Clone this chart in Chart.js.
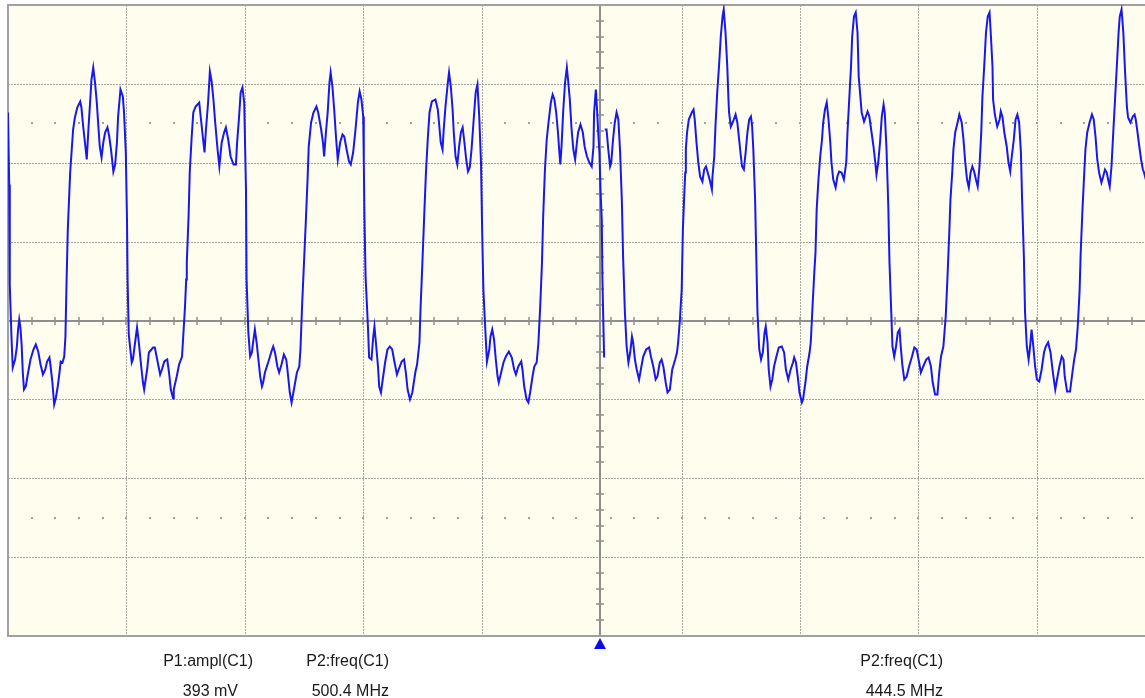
<!DOCTYPE html>
<html>
<head>
<meta charset="utf-8">
<title>C1 capture</title>
<script src="https://cdn.jsdelivr.net/npm/chart.js@4.4.1/dist/chart.umd.min.js"></script>
<style>
    html, body { margin: 0; padding: 0; background: #fff; overflow: hidden; }
    #wrap { position: relative; width: 1145px; height: 698px; overflow: hidden; }
    #scope { position: absolute; left: 0; top: 0; }
    .lbl {
        position: absolute;
        font-family: "Liberation Sans", Arial, sans-serif;
        font-size: 16px;
        line-height: 16px;
        color: #1a1a1a;
        white-space: nowrap;
        transform: translateX(-100%);
    }
</style>
</head>
<body>
<div id="wrap">
    <canvas id="scope" width="1192" height="698"></canvas>
    <div class="lbl" style="left:253px;top:653px">P1:ampl(C1)</div>
    <div class="lbl" style="left:238px;top:683px">393 mV</div>
    <div class="lbl" style="left:389px;top:653px">P2:freq(C1)</div>
    <div class="lbl" style="left:389px;top:683px">500.4 MHz</div>
    <div class="lbl" style="left:943px;top:653px">P2:freq(C1)</div>
    <div class="lbl" style="left:943px;top:683px">444.5 MHz</div>
</div>
<script>
// First capture (left half of the screen): time in ns, level in mV
var leftTimeNs = [
    0.00, 0.02, 0.03, 0.06, 0.08, 0.12, 0.15, 0.17, 0.19, 0.21,
    0.23, 0.25, 0.27, 0.30, 0.34, 0.38, 0.43, 0.47, 0.51, 0.55,
    0.59, 0.63, 0.66, 0.70, 0.72, 0.75, 0.78, 0.81, 0.84, 0.87,
    0.89, 0.92, 0.95, 0.97, 0.99, 1.01, 1.05, 1.08, 1.10, 1.13,
    1.17, 1.22, 1.24, 1.27, 1.30, 1.33, 1.36, 1.39, 1.41, 1.44,
    1.47, 1.50, 1.53, 1.55, 1.58, 1.61, 1.64, 1.68, 1.71, 1.74,
    1.78, 1.81, 1.84, 1.86, 1.90, 1.94, 1.96, 1.99, 2.01, 2.02,
    2.04, 2.09, 2.11, 2.16, 2.18, 2.21, 2.25, 2.28, 2.30, 2.35,
    2.38, 2.45, 2.48, 2.52, 2.57, 2.60, 2.64, 2.69, 2.72, 2.75,
    2.79, 2.80, 2.85, 2.89, 2.94, 2.96, 2.99, 3.01, 3.02, 3.05,
    3.07, 3.10, 3.13, 3.17, 3.23, 3.26, 3.29, 3.32, 3.34, 3.38,
    3.41, 3.44, 3.47, 3.50, 3.54, 3.57, 3.61, 3.65, 3.68, 3.72,
    3.76, 3.81, 3.85, 3.87, 3.90, 3.93, 3.96, 3.99, 4.02, 4.03,
    4.06, 4.09, 4.12, 4.14, 4.17, 4.20, 4.23, 4.26, 4.29, 4.31,
    4.34, 4.40, 4.45, 4.48, 4.51, 4.55, 4.58, 4.62, 4.66, 4.70,
    4.72, 4.76, 4.79, 4.83, 4.88, 4.92, 4.94, 4.97, 5.00, 5.03,
    5.06, 5.08, 5.12, 5.16, 5.21, 5.24, 5.29, 5.32, 5.34, 5.37,
    5.40, 5.43, 5.45, 5.48, 5.51, 5.54, 5.57, 5.61, 5.65, 5.68,
    5.72, 5.76, 5.79, 5.83, 5.87, 5.91, 5.94, 5.97, 6.00, 6.01,
    6.02, 6.04, 6.08, 6.10, 6.14, 6.17, 6.19, 6.21, 6.25, 6.27,
    6.30, 6.33, 6.37, 6.41, 6.45, 6.49, 6.53, 6.57, 6.60, 6.65,
    6.69, 6.72, 6.75, 6.79, 6.83, 6.88, 6.91, 6.95, 6.97, 7.00,
    7.03, 7.06, 7.09, 7.12, 7.16, 7.22, 7.26, 7.28, 7.31, 7.34,
    7.36, 7.39, 7.43, 7.45, 7.48, 7.51, 7.53, 7.56, 7.59, 7.62,
    7.65, 7.68, 7.71, 7.74, 7.77, 7.80, 7.83, 7.87, 7.90, 7.93,
    7.96, 7.99, 8.01, 8.03, 8.06, 8.09, 8.13, 8.15, 8.18, 8.21,
    8.24, 8.27, 8.29, 8.33, 8.37, 8.41, 8.46, 8.51, 8.55, 8.58,
    8.62, 8.67, 8.69, 8.72, 8.76, 8.79, 8.82, 8.86, 8.89, 8.93,
    8.96, 8.99, 9.02, 9.04, 9.07, 9.10, 9.13, 9.17, 9.20, 9.23,
    9.26, 9.29, 9.31, 9.33, 9.35, 9.38, 9.41, 9.44, 9.46, 9.49,
    9.52, 9.55, 9.58, 9.61, 9.63, 9.67, 9.71, 9.74, 9.78, 9.82,
    9.86, 9.89, 9.90, 9.93, 9.95, 9.97, 9.99, 10.01, 10.03, 10.04,
    10.06, 10.07
];
var leftMv = [
    208, 136, 36, -19, -47, -39, -26, -9, 1, -7,
    -24, -52, -69, -66, -52, -39, -29, -24, -31, -44,
    -54, -49, -41, -37, -46, -62, -84, -77, -66, -52,
    -41, -42, -36, -16, 41, 91, 148, 174, 191, 203,
    213, 219, 213, 194, 178, 161, 193, 221, 241, 253,
    238, 218, 191, 174, 163, 178, 188, 193, 184, 171,
    149, 156, 178, 204, 231, 224, 208, 168, 101, 41,
    -14, -42, -39, -16, -7, -22, -46, -62, -69, -49,
    -32, -27, -27, -39, -54, -49, -41, -39, -52, -69,
    -78, -69, -56, -44, -36, -16, 14, 41, 58, 104,
    148, 181, 208, 214, 218, 201, 184, 168, 188, 218,
    249, 239, 221, 198, 171, 154, 178, 188, 193, 181,
    164, 156, 156, 178, 201, 228, 233, 218, 131, 41,
    -12, -36, -32, -22, -9, -22, -39, -56, -66, -62,
    -52, -41, -31, -26, -32, -46, -52, -44, -34, -39,
    -49, -72, -82, -69, -52, -46, -29, 18, 58, 98,
    141, 174, 198, 208, 214, 208, 191, 178, 164, 188,
    208, 238, 248, 234, 211, 184, 161, 178, 186, 184,
    171, 159, 156, 168, 191, 218, 229, 221, 204, 161,
    108, 44, -6, -37, -39, -16, -6, -19, -46, -66,
    -72, -59, -42, -29, -26, -29, -42, -54, -49, -41,
    -39, -52, -69, -79, -72, -52, -44, -22, 14, 58,
    104, 148, 181, 208, 219, 221, 211, 198, 178, 171,
    191, 214, 238, 248, 234, 211, 188, 164, 156, 174,
    188, 193, 178, 161, 149, 153, 171, 204, 228, 236,
    204, 158, 88, 31, -6, -41, -29, -16, -9, -19,
    -39, -56, -62, -52, -42, -36, -31, -37, -49, -54,
    -46, -41, -49, -66, -79, -82, -72, -56, -46, -42,
    -22, 14, 58, 104, 151, 181, 198, 218, 226, 221,
    208, 188, 171, 156, 174, 211, 238, 253, 241, 221,
    191, 171, 161, 178, 188, 196, 188, 174, 164, 158,
    154, 174, 208, 231, 211, 188, 168, 128, 101, 44,
    -12, -37
];

// Second capture (right half of the screen)
var rightTimeNs = [
    10.08, 10.11, 10.14, 10.17, 10.19, 10.22, 10.25, 10.28, 10.31, 10.34,
    10.37, 10.39, 10.42, 10.45, 10.48, 10.51, 10.54, 10.56, 10.59, 10.62,
    10.66, 10.69, 10.73, 10.78, 10.83, 10.86, 10.90, 10.94, 10.97, 11.01,
    11.04, 11.07, 11.11, 11.14, 11.18, 11.22, 11.27, 11.30, 11.32, 11.35,
    11.38, 11.40, 11.42, 11.44, 11.45, 11.47, 11.50, 11.55, 11.58, 11.60,
    11.63, 11.66, 11.69, 11.73, 11.76, 11.79, 11.82, 11.86, 11.89, 11.90,
    11.93, 11.95, 11.98, 12.01, 12.04, 12.07, 12.09, 12.12, 12.15, 12.17,
    12.18, 12.21, 12.24, 12.26, 12.29, 12.32, 12.35, 12.38, 12.40, 12.43,
    12.46, 12.49, 12.52, 12.55, 12.57, 12.59, 12.62, 12.64, 12.66, 12.69,
    12.72, 12.75, 12.78, 12.80, 12.83, 12.85, 12.88, 12.91, 12.94, 12.98,
    13.02, 13.07, 13.11, 13.14, 13.18, 13.22, 13.26, 13.28, 13.31, 13.34,
    13.37, 13.41, 13.43, 13.47, 13.50, 13.54, 13.56, 13.59, 13.62, 13.64,
    13.66, 13.69, 13.72, 13.75, 13.77, 13.80, 13.83, 13.86, 13.89, 13.91,
    13.94, 13.98, 14.01, 14.04, 14.08, 14.12, 14.16, 14.18, 14.21, 14.24,
    14.26, 14.29, 14.32, 14.35, 14.37, 14.42, 14.46, 14.49, 14.52, 14.55,
    14.58, 14.62, 14.65, 14.67, 14.70, 14.73, 14.76, 14.79, 14.81, 14.84,
    14.87, 14.89, 14.92, 14.94, 14.97, 15.00, 15.03, 15.06, 15.08, 15.11,
    15.14, 15.18, 15.22, 15.27, 15.31, 15.35, 15.39, 15.42, 15.46, 15.51,
    15.55, 15.59, 15.62, 15.66, 15.70, 15.73, 15.76, 15.80, 15.84, 15.87,
    15.90, 15.92, 15.95, 15.97, 16.00, 16.04, 16.07, 16.11, 16.14, 16.17,
    16.20, 16.23, 16.26, 16.29, 16.32, 16.35, 16.38, 16.41, 16.44, 16.46,
    16.49, 16.52, 16.55, 16.58, 16.60, 16.63, 16.64, 16.67, 16.71, 16.75,
    16.77, 16.80, 16.83, 16.87, 16.90, 16.93, 16.95, 16.99, 17.02, 17.05,
    17.08, 17.11, 17.13, 17.16, 17.18, 17.21, 17.24, 17.26, 17.29, 17.32,
    17.35, 17.38, 17.42, 17.46, 17.50, 17.53, 17.57, 17.61, 17.65, 17.69,
    17.72, 17.76, 17.80, 17.83, 17.85, 17.89, 17.94, 17.98, 18.01, 18.04,
    18.07, 18.10, 18.12, 18.15, 18.18, 18.20, 18.23, 18.27, 18.31, 18.34,
    18.37, 18.40, 18.43, 18.47, 18.50, 18.53, 18.56, 18.59, 18.61, 18.64,
    18.67, 18.70, 18.73, 18.76, 18.78, 18.81, 18.84, 18.87, 18.90, 18.92,
    18.96, 19.00, 19.03, 19.05, 19.08, 19.11, 19.14, 19.17, 19.19, 19.22
];
var rightMv = [
    191, 191, 171, 154, 158, 181, 198, 208, 201, 168,
    118, 64, 9, -26, -42, -32, -16, -22, -39, -49,
    -59, -49, -36, -29, -27, -36, -46, -59, -56, -42,
    -39, -46, -62, -72, -69, -49, -39, -32, -22, 1,
    31, 91, 121, 148, 171, 188, 201, 208, 211, 201,
    178, 158, 144, 139, 151, 154, 148, 139, 131, 144,
    164, 194, 228, 254, 284, 304, 311, 288, 254, 221,
    208, 194, 198, 201, 206, 198, 181, 164, 154, 151,
    168, 188, 201, 204, 194, 171, 121, 64, 8, -29,
    -39, -32, -12, -6, -22, -49, -66, -59, -46, -36,
    -27, -26, -32, -49, -59, -49, -42, -37, -42, -56,
    -72, -82, -79, -62, -46, -32, -22, 14, 48, 68,
    111, 141, 164, 181, 198, 211, 218, 201, 178, 158,
    141, 133, 144, 149, 148, 141, 158, 188, 221, 254,
    284, 304, 308, 288, 244, 208, 199, 204, 209, 204,
    191, 174, 158, 146, 158, 178, 204, 216, 208, 171,
    114, 58, 8, -26, -36, -26, -12, -9, -26, -46,
    -59, -56, -46, -36, -27, -29, -42, -52, -46, -39,
    -37, -46, -62, -74, -74, -52, -36, -26, 4, 44,
    88, 121, 148, 171, 188, 198, 206, 198, 181, 158,
    141, 133, 148, 154, 149, 141, 134, 154, 188, 224,
    254, 288, 304, 308, 288, 254, 221, 206, 194, 201,
    209, 203, 188, 174, 158, 149, 161, 181, 201, 206,
    198, 168, 121, 64, 8, -26, -39, -29, -9, -26,
    -46, -59, -61, -49, -32, -26, -22, -32, -52, -69,
    -59, -46, -36, -39, -56, -71, -71, -52, -39, -29,
    -6, 28, 68, 111, 148, 171, 188, 198, 206, 201,
    184, 161, 148, 138, 144, 151, 148, 139, 134, 154,
    188, 221, 254, 288, 304, 311, 288, 248, 214, 203,
    198, 204, 206, 201, 188, 174, 161, 151, 148, 141
];

// Screen settings
var nsPerDiv = 2;
var mvPerDiv = 78.875;
var splitNs = 10;          // where the two captures meet (trigger marker)
var rightGridNs = 11.38;   // first grid line of the second capture

function toPoints(times, values) {
    var n = Math.min(times.length, values.length), out = [];
    for (var i = 0; i < n; i++) {
        out.push({x: times[i], y: values[i]});
    }
    return out;
}

// Scope graticule: cream screen, dotted divisions, centre cross with ticks
var graticule = {
    id: 'graticule',
    beforeDatasetsDraw: function (chart) {
        var ctx = chart.ctx, a = chart.chartArea;
        var xs = chart.scales.x, ys = chart.scales.y;
        var xMax = xs.max;
        var X = function (t) { return Math.round(xs.getPixelForValue(t)) + 0.5; };
        var Y = function (v) { return Math.round(ys.getPixelForValue(v)) + 0.5; };
        var t, k, x, y, v;

        // vertical grid times for both captures
        var gridTimes = [], minorTimes = [];
        for (t = nsPerDiv; t < splitNs - 0.01; t += nsPerDiv) gridTimes.push(t);
        for (t = rightGridNs; t <= xMax; t += nsPerDiv) gridTimes.push(t);
        for (t = nsPerDiv / 5; t < splitNs - 0.01; t += nsPerDiv / 5) minorTimes.push(t);
        for (t = rightGridNs - 3 * nsPerDiv / 5; t <= xMax; t += nsPerDiv / 5) {
            if (t > splitNs + 0.05) minorTimes.push(t);
        }

        ctx.save();
        ctx.fillStyle = '#fffdee';
        ctx.fillRect(a.left, a.top, a.right - a.left, a.bottom - a.top);

        // dotted division lines
        ctx.strokeStyle = '#a6a6a0';
        ctx.lineWidth = 1;
        ctx.setLineDash([2, 1]);
        ctx.beginPath();
        for (k = 1; k < 4; k++) {
            [k, -k].forEach(function (d) {
                var yy = Y(d * mvPerDiv);
                ctx.moveTo(a.left, yy);
                ctx.lineTo(a.right, yy);
            });
        }
        gridTimes.forEach(function (gt) {
            var xx = X(gt);
            ctx.moveTo(xx, a.top);
            ctx.lineTo(xx, a.bottom);
        });
        ctx.stroke();
        ctx.setLineDash([]);

        // rows of sub-division dots
        ctx.fillStyle = '#a0a0a0';
        [2.5, -2.5].forEach(function (d) {
            var yy = Math.round(ys.getPixelForValue(d * mvPerDiv));
            minorTimes.forEach(function (mt) {
                var xx = Math.round(xs.getPixelForValue(mt));
                ctx.fillRect(xx - 1, yy - 1, 2, 2);
            });
        });

        // centre cross
        var cx = Math.round(xs.getPixelForValue(splitNs));
        var cy = Math.round(ys.getPixelForValue(0));
        ctx.strokeStyle = '#8e8e8e';
        ctx.lineWidth = 2;
        ctx.beginPath();
        ctx.moveTo(a.left, cy);
        ctx.lineTo(a.right, cy);
        ctx.moveTo(cx, a.top);
        ctx.lineTo(cx, a.bottom);
        ctx.stroke();

        ctx.lineWidth = 1.5;
        ctx.beginPath();
        minorTimes.forEach(function (mt) {
            var xx = Math.round(xs.getPixelForValue(mt));
            ctx.moveTo(xx, cy - 4);
            ctx.lineTo(xx, cy + 4);
        });
        for (v = -20; v <= 20; v++) {
            if (v % 5 === 0) continue;
            y = Math.round(ys.getPixelForValue(v * mvPerDiv / 5));
            ctx.moveTo(cx - 4, y);
            ctx.lineTo(cx + 4, y);
        }
        ctx.stroke();

        // frame
        ctx.strokeStyle = '#a0a0a0';
        ctx.lineWidth = 2;
        ctx.beginPath();
        ctx.moveTo(a.right, a.top);
        ctx.lineTo(a.left, a.top);
        ctx.lineTo(a.left, a.bottom);
        ctx.lineTo(a.right, a.bottom);
        ctx.stroke();
        ctx.restore();
    },
    afterDraw: function (chart) {
        // trigger position marker under the screen
        var ctx = chart.ctx, a = chart.chartArea;
        var x = chart.scales.x.getPixelForValue(splitNs);
        ctx.save();
        ctx.fillStyle = '#0a0aee';
        ctx.beginPath();
        ctx.moveTo(x, a.bottom + 2);
        ctx.lineTo(x + 6, a.bottom + 13);
        ctx.lineTo(x - 6, a.bottom + 13);
        ctx.closePath();
        ctx.fill();
        ctx.restore();
    }
};

var traceStyle = {
    borderColor: '#1717f0',
    borderWidth: 2,
    pointRadius: 0,
    tension: 0,
    fill: false
};

var scope = new Chart(document.getElementById('scope'), {
    type: 'line',
    data: {
        datasets: [
            Object.assign({label: 'C1 500.4 MHz', data: toPoints(leftTimeNs, leftMv)}, traceStyle),
            Object.assign({label: 'C1 444.5 MHz', data: toPoints(rightTimeNs, rightMv)}, traceStyle)
        ]
    },
    options: {
        responsive: false,
        animation: false,
        events: [],
        layout: {padding: {left: 8, top: 5, right: 0, bottom: 62}},
        scales: {
            x: {type: 'linear', min: 0, max: 10 * nsPerDiv, display: false},
            y: {type: 'linear', min: -4 * mvPerDiv, max: 4 * mvPerDiv, display: false}
        },
        plugins: {
            legend: {display: false},
            tooltip: {enabled: false}
        }
    },
    plugins: [graticule]
});
</script>
</body>
</html>
